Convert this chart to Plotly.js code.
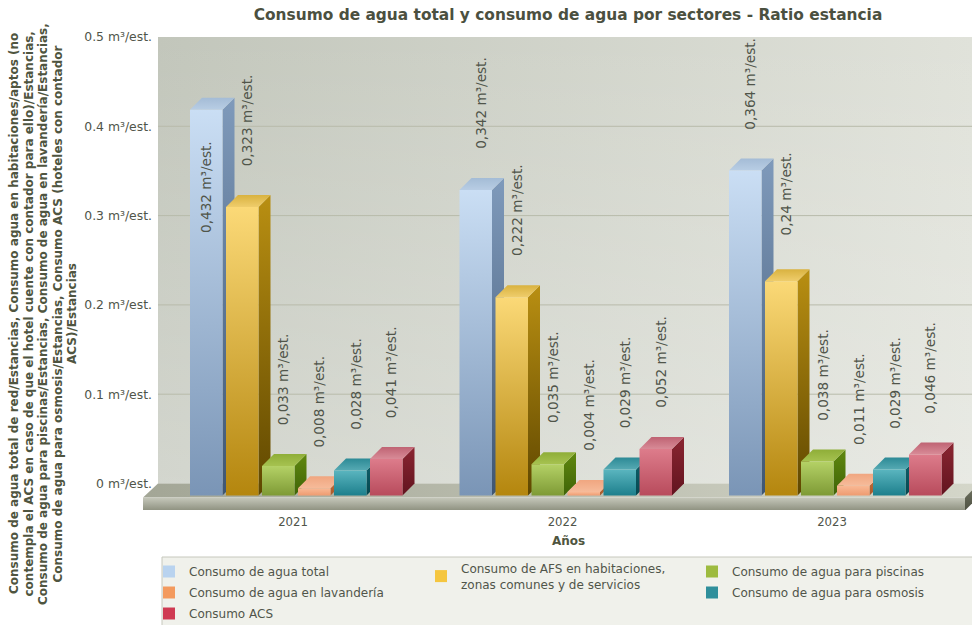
<!DOCTYPE html>
<html>
<head>
<meta charset="utf-8">
<script src="https://cdn.plot.ly/plotly-3.0.1.min.js"></script>
<style>html,body{margin:0;padding:0;background:#fff}</style>
</head>
<body>
<div id="chart" style="width:972px;height:625px"></div>
<script>
// ---- data ----
const years = ['2021', '2022', '2023'];
const seriesNames = [
  'Consumo de agua total',
  'Consumo de AFS en habitaciones,<br>zonas comunes y de servicios',
  'Consumo de agua para piscinas',
  'Consumo de agua en lavandería',
  'Consumo de agua para osmosis',
  'Consumo ACS'
];
const aguaTotal   = [0.432, 0.342, 0.364];
const afs         = [0.323, 0.222, 0.24];
const piscinas    = [0.033, 0.035, 0.038];
const lavanderia  = [0.008, 0.004, 0.011];
const osmosis     = [0.028, 0.029, 0.029];
const acs         = [0.041, 0.052, 0.046];
const seriesValues = [aguaTotal, afs, piscinas, lavanderia, osmosis, acs];
const yTicks = [0, 0.1, 0.2, 0.3, 0.4, 0.5];
const yTickText = ['0 m³/est.', '0.1 m³/est.', '0.2 m³/est.', '0.3 m³/est.', '0.4 m³/est.', '0.5 m³/est.'];
const yTitleLines = [
  'Consumo de agua total de red/Estancias, Consumo agua en habitaciones/aptos (no',
  'contempla el ACS en caso de que el hotel cuente con contador para ello)/Estancias,',
  'Consumo de agua para piscinas/Estancias, Consumo de agua en lavandería/Estancias,',
  'Consumo de agua para osmosis/Estancias, Consumo ACS (hoteles con contador',
  'ACS)/Estancias'
];
const titleText = 'Consumo de agua total y consumo de agua por sectores - Ratio estancia';
const xTitleText = 'Años';

// ---- styling ----
const palette = [
  {legend:'#b9d3ef', front:['#cadef4','#7a95b6'], side:['#7f9abb','#3f5672'], top:['#a4bcd6','#b8cde4']},
  {legend:'#f5c63f', front:['#fbd977','#b4860e'], side:['#b98f12','#5f4700'], top:['#d9b23f','#efcd6c']},
  {legend:'#9dbb3f', front:['#b4d166','#7e9a35'], side:['#60880f','#3f6407'], top:['#8fae38','#a6c250']},
  {legend:'#f39a5e', front:['#f9b995','#ee9b70'], side:['#c9703c','#a85a2c'], top:['#f0a680','#f6bb9a']},
  {legend:'#2f8f9b', front:['#5ab5bf','#1d7f8c'], side:['#0f636e','#06474f'], top:['#2d8a96','#56aab3']},
  {legend:'#cf3a52', front:['#dd7c8b','#b84b5c'], side:['#8a2531','#62141f'], top:['#bf6373','#d88b97']}
];
const textColor = '#50554a';

// ---- geometry in axis units (1 x unit = one year group, y in m³/est.) ----
const pxPerGroup = 269.5, pxPerUnitY = 893;
const plotL = 143, plotR = 972, plotT = 37, plotB = 510;
const xMin = (plotL - 293) / pxPerGroup, xMax = (plotR - 293) / pxPerGroup;
const yMax = 0.5, yMin = yMax - (plotB - plotT) / pxPerUnitY;
const barW = 32.5 / pxPerGroup, pitch = 36 / pxPerGroup, depthX = 12 / pxPerGroup, depthY = 12 / pxPerUnitY;
const firstBar = (190 - 293) / pxPerGroup;
const wallL = (158 - 293) / pxPerGroup;
const floorFrontTop = -14 / pxPerUnitY, floorFrontBottom = -27 / pxPerUnitY;
const floorRight = (965 - 293) / pxPerGroup;

// colours are given first-to-last: top-to-bottom for vertical, left-to-right for horizontal
function face(xs, ys, colors, type) {
  const t = type || 'vertical';
  const c = t === 'vertical' ? [colors[1], colors[0]] : colors;
  return {
    type: 'scatter', mode: 'none', x: xs, y: ys, fill: 'toself', showlegend: false, hoverinfo: 'skip',
    fillgradient: {type: t, colorscale: [[0, c[0]], [1, c[1]]]}
  };
}

const traces = [];

// native bars carry the values and the legend entries
seriesValues.forEach(function (vals, s) {
  traces.push({
    type: 'bar', name: seriesNames[s], legend: s === 0 ? 'legend' : 'legend' + (s + 1),
    x: years.map((_, g) => g + firstBar + s * pitch + barW / 2),
    y: vals, base: -depthY, width: barW,
    marker: {color: palette[s].legend}, hoverinfo: 'name+y'
  });
});

// back wall, grid and floor
traces.push(face([wallL, xMax, xMax, wallL], [0, 0, yMax, yMax], ['#c2c6bb', '#e0e2da'], 'horizontal'));
traces.push(face([wallL, xMax, xMax, wallL], [0, 0, yMax, yMax], ['rgba(255,255,255,0)', 'rgba(255,255,255,0.28)'], 'vertical'));
const gridX = [], gridY = [];
yTicks.slice(1, 5).forEach(function (t) { gridX.push(wallL, xMax, null); gridY.push(t, t, null); });
traces.push({type: 'scatter', mode: 'lines', x: gridX, y: gridY, line: {color: '#b8bbaa', width: 1}, showlegend: false, hoverinfo: 'skip'});
traces.push(face([(143 - 293) / pxPerGroup, floorRight, xMax, xMax, wallL],
  [floorFrontTop, floorFrontTop, floorFrontTop + depthY / 2, 0, 0], ['#a3a696', '#d4d6c9'], 'horizontal'));
traces.push(face([xMin, floorRight, floorRight, xMin], [floorFrontTop, floorFrontTop, floorFrontBottom, floorFrontBottom], ['#c6c8bb', '#8e9180'], 'vertical'));
traces.push(face([floorRight, xMax, xMax, floorRight],
  [floorFrontTop, floorFrontTop + 7 / pxPerUnitY, floorFrontBottom + 7 / pxPerUnitY, floorFrontBottom], ['#6a6d5c', '#4f5243'], 'vertical'));

// 3-D faces of the bars, derived from the same values
const annotations = [];
years.forEach(function (_, g) {
  seriesValues.forEach(function (vals, s) {
    const v = vals[g];
    const x0 = g + firstBar + s * pitch, x1 = x0 + barW;
    const yFront = v - depthY;
    const c = palette[s];
    traces.push(face([x1, x1 + depthX, x1 + depthX, x1], [-depthY, 0, v, yFront], c.side));
    traces.push(face([x0, x1, x1 + depthX, x0 + depthX], [yFront, yFront, v, v], c.top));
    traces.push(face([x0, x1, x1, x0], [-depthY, -depthY, yFront, yFront], c.front));
    // labels sit above the bar; when that would leave the plot they go inside it
    const above = v + 75 / pxPerUnitY;
    const fits = above + 46 / pxPerUnitY <= yMax + 0.003;
    annotations.push({
      xref: 'x', yref: 'y', showarrow: false, textangle: -90,
      x: (fits ? x0 + (barW + depthX) / 2 : x0 + barW / 2) - 1 / pxPerGroup,
      y: fits ? above : v - 89 / pxPerUnitY,
      text: String(v).replace('.', ',') + ' m³/est.',
      font: {family: 'DejaVu Sans', size: 13.6, color: textColor}
    });
  });
});

yTitleLines.forEach(function (line, i) {
  annotations.push({
    xref: 'paper', yref: 'paper', showarrow: false, textangle: -90,
    xanchor: 'center', yanchor: 'middle',
    x: (14 + i * 14.5 - plotL) / (plotR - plotL), y: (plotB - 314) / (plotB - plotT),
    text: '<b>' + line + '</b>',
    font: {family: 'DejaVu Sans', size: 12, color: '#4f5540'}
  });
});
annotations.push({
  xref: 'paper', yref: 'paper', showarrow: false, xanchor: 'center', yanchor: 'middle',
  x: (568 - plotL) / (plotR - plotL), y: (plotB - 541) / (plotB - plotT),
  text: '<b>' + xTitleText + '</b>',
  font: {family: 'DejaVu Sans', size: 12, color: '#4f5540'}
});

const legendFont = {family: 'DejaVu Sans', size: 12, color: textColor};
function legendAt(xPx, yPx) {
  return {
    x: (xPx - plotL) / (plotR - plotL), y: (plotB - yPx) / (plotB - plotT),
    xanchor: 'left', yanchor: 'top', bgcolor: 'rgba(0,0,0,0)', borderwidth: 0,
    font: legendFont, orientation: 'v', traceorder: 'normal'
  };
}

const layout = {
  width: 972, height: 625,
  margin: {l: plotL, r: 972 - plotR, t: plotT, b: 625 - plotB, pad: 0, autoexpand: false},
  paper_bgcolor: '#ffffff', plot_bgcolor: 'rgba(0,0,0,0)',
  title: {
    text: '<b>' + titleText + '</b>', xref: 'container', x: 568 / 972, xanchor: 'center',
    yref: 'container', y: 1 - 15 / 625, yanchor: 'middle',
    font: {family: 'DejaVu Sans', size: 15.4, color: '#4b5040'}
  },
  xaxis: {
    range: [xMin, xMax], tickmode: 'array', tickvals: years.map((_, g) => g), ticktext: years,
    showgrid: false, zeroline: false, showline: false, ticks: '', ticklabelstandoff: 3,
    tickfont: {family: 'DejaVu Sans', size: 11.7, color: textColor}
  },
  yaxis: {
    range: [yMin, yMax], tickmode: 'array', tickvals: yTicks, ticktext: yTickText,
    showgrid: false, zeroline: false, showline: false, ticks: '', ticklabelstandoff: -10,
    tickfont: {family: 'DejaVu Sans', size: 12.4, color: textColor}
  },
  barmode: 'overlay',
  legend: legendAt(149, 557),
  legend2: legendAt(421, 554),
  legend3: legendAt(692, 557),
  legend4: legendAt(149, 578),
  legend5: legendAt(692, 578),
  legend6: legendAt(149, 599),
  shapes: [{
    type: 'rect', xref: 'paper', yref: 'paper', layer: 'below',
    x0: (162 - plotL) / (plotR - plotL), x1: 1.002,
    y0: (plotB - 626) / (plotB - plotT), y1: (plotB - 557) / (plotB - plotT),
    fillcolor: '#f0f1eb', line: {color: '#c6c8bd', width: 1}
  }],
  annotations: annotations
};

Plotly.newPlot('chart', traces, layout, {displayModeBar: false, responsive: false});
</script>
</body>
</html>
